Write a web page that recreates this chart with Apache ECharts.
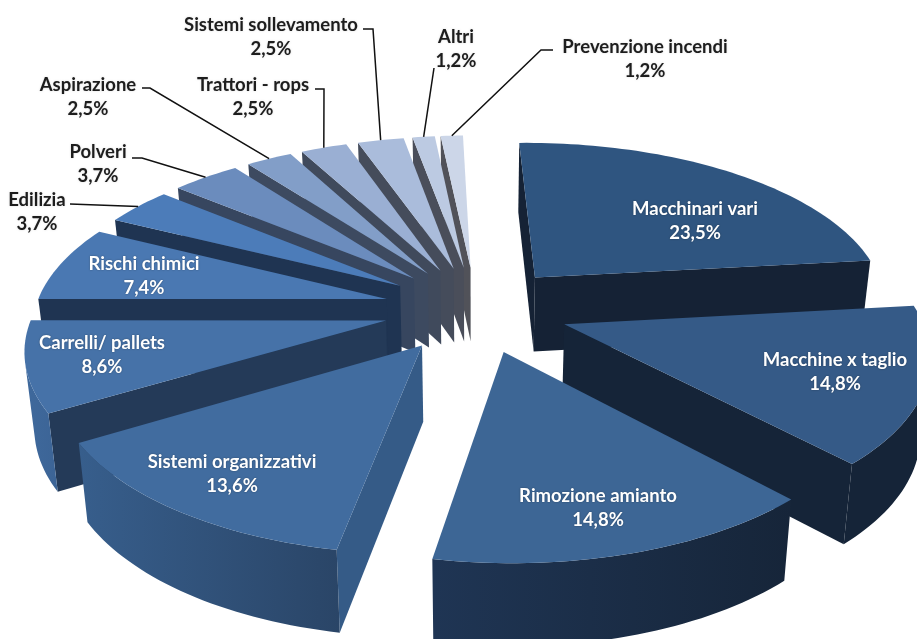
<!DOCTYPE html>
<html>
<head>
<meta charset="utf-8">
<title>Torta 3D</title>
<script src="https://cdn.jsdelivr.net/npm/echarts@6/dist/echarts.min.js"></script>
<style>
    html, body { margin: 0; padding: 0; background: #fff; }
    #main { width: 917px; height: 639px; }
</style>
</head>
<body>
<div id="main"></div>
<script>
// dati della torta, in senso orario partendo dalle ore 12
let categories = ["Macchinari vari", "Macchine x taglio", "Rimozione amianto", "Sistemi organizzativi", "Carrelli/ pallets", "Rischi chimici", "Edilizia", "Polveri", "Aspirazione", "Trattori - rops", "Sistemi sollevamento", "Altri", "Prevenzione incendi"];
let values = [23.5, 14.8, 14.8, 13.6, 8.6, 7.4, 3.7, 3.7, 2.5, 2.5, 2.5, 1.2, 1.2];

// colori: faccia superiore, pareti di taglio, parete esterna (sinistra -> destra)
let topColors = ["#2f5580", "#355a87", "#3d6695", "#416c9f", "#4672a8", "#4a78b2", "#4c7cb9", "#6b8cbd", "#829ec8", "#9aafd3", "#aabcdb", "#bccae2", "#ccd6e8"];
let cutColors = ["#152235", "#152438", "#172840", "#355b87", "#243a58", "#1f3452", "#1f3452", "#37465f", "#3d4a60", "#404a5c", "#454c5b", "#4a4e5a", "#515259"];
let arcColors = [["#152235", "#152235"], ["#152438", "#152438"], ["#1f3554", "#162539"], ["#375e8c", "#2a4567"], ["#3f699c", "#3c6496"], ["#3f699c", "#3f699c"], ["#1f3452", "#1f3452"], ["#37465f", "#37465f"], ["#3d4a60", "#3d4a60"], ["#404a5c", "#404a5c"], ["#454c5b", "#454c5b"], ["#4a4e5a", "#4a4e5a"], ["#515259", "#515259"]];

// posizione delle etichette [x, y] e colore
let labelPos = [[695, 221], [835, 372], [598, 508], [232, 474], [102, 355], [144, 276], [37, 212], [98, 164], [88, 97], [253, 97], [271, 37], [456, 49], [645, 59]];
let labelInside = [true, true, true, true, true, true, false, false, false, false, false, false, false];
// linee guida: punti dal lato dell'etichetta, l'ultimo punto viene calcolato sul bordo della fetta
let leaderPoints = [null, null, null, null, null, null, [[70, 204]], [[132, 158], [142, 158]], [[142, 88], [150, 88]], [[315, 89], [324, 89]], [[363, 29], [373, 29]], [[434, 68]], [[553, 50], [541, 50]]];

// prospettiva della torta
const cx = 476, cy = 309;
const scaleX = 353, scaleY = 168, persp = 0.15;
const shearX = -8, rollY = -2.8, tiltY = 3.75;
const explode = 0.262;
const wallHeight = 75, wallTaper = 0.978;

let total = values.reduce((a, b) => a + b, 0);
let startAngle = [];
let acc = 0;
values.forEach((v) => {
    startAngle.push(acc / total * Math.PI * 2);
    acc += v;
});
let endAngle = values.map((v, i) => startAngle[i] + v / total * Math.PI * 2);

function project(u, v) {
    let s = 1 / (1 + persp * v);
    return {
        x: cx + scaleX * u * s + shearX * v,
        y: cy - scaleY * v * s + rollY * u + tiltY * v,
        s: s
    };
}
function bottomOf(p) {
    return [cx + (p.x - cx) * wallTaper, p.y + wallHeight * Math.sqrt(p.s)];
}
function pointOnSlice(i, r, angle) {
    let mid = (startAngle[i] + endAngle[i]) / 2;
    return project(explode * Math.sin(mid) + r * Math.sin(angle), explode * Math.cos(mid) + r * Math.cos(angle));
}
function xy(p) {
    return [p.x, p.y];
}
// una parete e' visibile se percorsa in senso orario va verso sinistra
function wallFront(a, b) {
    let pts = [xy(a), xy(b), bottomOf(b), bottomOf(a)];
    let area = 0;
    pts.forEach((p, k) => {
        let q = pts[(k + 1) % 4];
        area += p[0] * q[1] - q[0] * p[1];
    });
    return area < 0;
}
function polygon(points, fill) {
    return { type: "polygon", shape: { points: points }, style: { fill: fill, stroke: null } };
}
function wallPolygon(list, fill) {
    let top = list.map(xy);
    let bottom = list.map(bottomOf).reverse();
    return polygon(top.concat(bottom), fill);
}

function renderSlice(params, api) {
    let i = api.value(0);
    let apex = pointOnSlice(i, 0, 0);
    let arc = [];
    let steps = Math.max(4, Math.ceil((endAngle[i] - startAngle[i]) * 40));
    for (let k = 0; k <= steps; k++) {
        arc.push(pointOnSlice(i, 1, startAngle[i] + (endAngle[i] - startAngle[i]) * k / steps));
    }
    let first = arc[0], last = arc[arc.length - 1];
    let children = [];

    // pareti visibili prima, faccia superiore sopra
    if (wallFront(apex, first)) {
        children.push(wallPolygon([apex, first], cutColors[i]));
    }
    if (wallFront(last, apex)) {
        children.push(wallPolygon([last, apex], cutColors[i]));
    }
    let run = [];
    let arcFill = new echarts.graphic.LinearGradient(0, 0, 1, 0, [
        { offset: 0, color: arcColors[i][0] },
        { offset: 1, color: arcColors[i][1] }
    ]);
    for (let k = 0; k < arc.length - 1; k++) {
        if (wallFront(arc[k], arc[k + 1])) {
            if (!run.length) run.push(arc[k]);
            run.push(arc[k + 1]);
        }
    }
    if (run.length) {
        children.push(wallPolygon(run, arcFill));
    }
    children.push(polygon([xy(apex)].concat(arc.map(xy)), topColors[i]));

    // linea guida
    if (leaderPoints[i]) {
        let edge = pointOnSlice(i, 1, (startAngle[i] + endAngle[i]) / 2);
        children.push({
            type: "polyline",
            z2: 50,
            shape: { points: leaderPoints[i].concat([xy(edge)]) },
            style: { fill: null, stroke: "#111", lineWidth: 1.5 }
        });
    }
    // etichetta
    let inside = labelInside[i];
    children.push({
        type: "text",
        z2: 100,
        style: {
            x: labelPos[i][0],
            y: labelPos[i][1],
            text: categories[i] + "\n" + values[i].toFixed(1).replace(".", ",") + "%",
            align: "center",
            verticalAlign: "middle",
            font: "bold 18.5px Lato",
            lineHeight: 24,
            fill: inside ? "#fff" : "#1d1d1d",
            textShadowColor: inside ? "rgba(0,0,0,0.35)" : "rgba(0,0,0,0.15)",
            textShadowBlur: 2
        }
    });
    return { type: "group", children: children };
}

// dal fondo verso il davanti
let order = values.map((v, i) => i).sort((a, b) => {
    let ma = (startAngle[a] + endAngle[a]) / 2, mb = (startAngle[b] + endAngle[b]) / 2;
    return Math.cos(mb) - Math.cos(ma);
});

let chart = echarts.init(document.getElementById("main"), null, { renderer: "canvas" });
chart.setOption({
    animation: false,
    backgroundColor: "#fff",
    series: [{
        type: "custom",
        coordinateSystem: "none",
        renderItem: renderSlice,
        silent: true,
        data: order.map((i) => [i, values[i]])
    }]
});
</script>
</body>
</html>
